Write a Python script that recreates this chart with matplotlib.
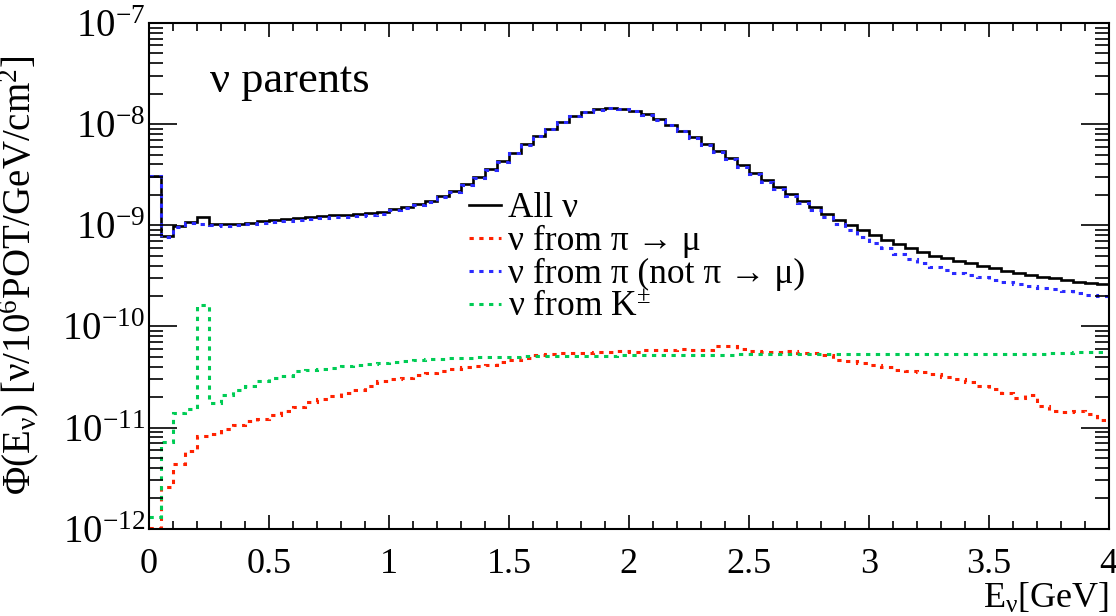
import numpy as np
import matplotlib
matplotlib.use('Agg')
import matplotlib.pyplot as plt
from matplotlib.ticker import MultipleLocator, LogLocator, NullFormatter

plt.rcParams['font.family'] = ['Liberation Serif', 'DejaVu Serif']
plt.rcParams['mathtext.fontset'] = 'custom'
plt.rcParams['mathtext.rm'] = 'Liberation Serif'
plt.rcParams['mathtext.it'] = 'Liberation Serif'
plt.rcParams['mathtext.bf'] = 'Liberation Serif:bold'

# 80 bins of 0.05 GeV from 0 to 4 GeV
bin_edges = np.linspace(0.0, 4.0, 81)

flux_all = [
    3.1e-9, 7.8e-10, 9.8e-10, 1.07e-9, 1.21e-9, 1.02e-9, 1.02e-9, 1.03e-9, 1.06e-9, 1.09e-9,
    1.12e-9, 1.15e-9, 1.18e-9, 1.2e-9, 1.23e-9, 1.25e-9, 1.27e-9, 1.29e-9, 1.31e-9, 1.34e-9,
    1.45e-9, 1.52e-9, 1.62e-9, 1.75e-9, 1.95e-9, 2.2e-9, 2.55e-9, 3.0e-9, 3.6e-9, 4.3e-9,
    5.2e-9, 6.3e-9, 7.6e-9, 9.0e-9, 1.05e-8, 1.2e-8, 1.32e-8, 1.4e-8, 1.45e-8, 1.42e-8,
    1.35e-8, 1.25e-8, 1.12e-8, 9.8e-9, 8.6e-9, 7.4e-9, 6.3e-9, 5.4e-9, 4.6e-9, 3.9e-9,
    3.3e-9, 2.8e-9, 2.4e-9, 2.05e-9, 1.75e-9, 1.5e-9, 1.3e-9, 1.14e-9, 1.0e-9, 8.9e-10,
    8.0e-10, 7.2e-10, 6.5e-10, 5.9e-10, 5.4e-10, 5.0e-10, 4.7e-10, 4.45e-10, 4.2e-10, 3.95e-10,
    3.75e-10, 3.55e-10, 3.4e-10, 3.25e-10, 3.1e-10, 2.98e-10, 2.88e-10, 2.78e-10, 2.68e-10, 2.6e-10,
]

flux_pi_other = [
    3.1e-9, 7.7e-10, 9.6e-10, 1.05e-9, 1.04e-9, 1.0e-9, 9.9e-10, 1.0e-9, 1.02e-9, 1.05e-9,
    1.08e-9, 1.1e-9, 1.13e-9, 1.15e-9, 1.18e-9, 1.2e-9, 1.22e-9, 1.24e-9, 1.26e-9, 1.29e-9,
    1.4e-9, 1.47e-9, 1.57e-9, 1.7e-9, 1.9e-9, 2.15e-9, 2.5e-9, 2.95e-9, 3.55e-9, 4.25e-9,
    5.15e-9, 6.25e-9, 7.55e-9, 8.95e-9, 1.045e-8, 1.19e-8, 1.31e-8, 1.39e-8, 1.44e-8, 1.41e-8,
    1.34e-8, 1.24e-8, 1.11e-8, 9.7e-9, 8.5e-9, 7.3e-9, 6.2e-9, 5.3e-9, 4.5e-9, 3.8e-9,
    3.2e-9, 2.7e-9, 2.3e-9, 1.95e-9, 1.66e-9, 1.41e-9, 1.2e-9, 1.04e-9, 8.9e-10, 7.6e-10,
    6.7e-10, 5.95e-10, 5.2e-10, 4.65e-10, 4.2e-10, 3.85e-10, 3.6e-10, 3.4e-10, 3.2e-10, 3.05e-10,
    2.9e-10, 2.78e-10, 2.65e-10, 2.53e-10, 2.42e-10, 2.32e-10, 2.22e-10, 2.14e-10, 2.06e-10, 1.98e-10,
]

flux_pi_mu = [
    1.02e-12, 2.6e-12, 4.4e-12, 5.8e-12, 8.3e-12, 8.7e-12, 9.7e-12, 1.06e-11, 1.15e-11, 1.22e-11,
    1.34e-11, 1.45e-11, 1.58e-11, 1.77e-11, 1.9e-11, 2.05e-11, 2.2e-11, 2.35e-11, 2.6e-11, 2.9e-11,
    3.0e-11, 3.1e-11, 3.3e-11, 3.45e-11, 3.6e-11, 3.8e-11, 3.95e-11, 4.1e-11, 4.2e-11, 4.4e-11,
    4.7e-11, 4.9e-11, 5.2e-11, 5.3e-11, 5.4e-11, 5.5e-11, 5.5e-11, 5.6e-11, 5.6e-11, 5.7e-11,
    5.6e-11, 5.8e-11, 5.9e-11, 5.9e-11, 6.0e-11, 5.8e-11, 5.9e-11, 6.4e-11, 6.4e-11, 6.0e-11,
    5.7e-11, 5.6e-11, 5.6e-11, 5.7e-11, 5.5e-11, 5.4e-11, 5.2e-11, 4.7e-11, 4.5e-11, 4.3e-11,
    4.15e-11, 4.0e-11, 3.75e-11, 3.65e-11, 3.55e-11, 3.4e-11, 3.15e-11, 3.0e-11, 2.85e-11, 2.6e-11,
    2.4e-11, 2.2e-11, 1.95e-11, 2.1e-11, 1.65e-11, 1.45e-11, 1.42e-11, 1.45e-11, 1.35e-11, 1.2e-11,
]

flux_kaon = [
    1.3e-12, 7.2e-12, 1.4e-11, 1.53e-11, 1.64e-10, 1.74e-11, 2.1e-11, 2.35e-11, 2.6e-11, 2.9e-11,
    3.1e-11, 3.2e-11, 3.6e-11, 3.7e-11, 3.8e-11, 3.9e-11, 4.05e-11, 4.15e-11, 4.25e-11, 4.35e-11,
    4.45e-11, 4.55e-11, 4.65e-11, 4.75e-11, 4.8e-11, 4.85e-11, 4.9e-11, 4.95e-11, 5.0e-11, 5.0e-11,
    5.0e-11, 5.05e-11, 5.05e-11, 5.1e-11, 5.1e-11, 5.1e-11, 5.15e-11, 5.15e-11, 5.15e-11, 5.2e-11,
    5.2e-11, 5.2e-11, 5.2e-11, 5.2e-11, 5.2e-11, 5.2e-11, 5.25e-11, 5.25e-11, 5.25e-11, 5.3e-11,
    5.3e-11, 5.3e-11, 5.3e-11, 5.3e-11, 5.3e-11, 5.3e-11, 5.3e-11, 5.3e-11, 5.3e-11, 5.3e-11,
    5.3e-11, 5.3e-11, 5.3e-11, 5.3e-11, 5.3e-11, 5.3e-11, 5.3e-11, 5.3e-11, 5.3e-11, 5.3e-11,
    5.3e-11, 5.3e-11, 5.3e-11, 5.3e-11, 5.35e-11, 5.4e-11, 5.5e-11, 5.55e-11, 5.6e-11, 5.6e-11,
]

labels = ['All ν', 'ν from π → μ', 'ν from π (not π → μ)', 'ν from K$^{\\pm}$']
xtick_vals = [0, 0.5, 1, 1.5, 2, 2.5, 3, 3.5, 4]
xtick_text = ['0', '0.5', '1', '1.5', '2', '2.5', '3', '3.5', '4']

dotted = (0, (1.4, 1.8))

fig = plt.figure(figsize=(11.16, 6.16), dpi=100)
ax = fig.add_axes([0.1335, 0.1417, 0.86, 0.821])

h_all = ax.stairs(flux_all, bin_edges, baseline=None, color='black', lw=1.9)
h_other = ax.stairs(flux_pi_other, bin_edges, baseline=None, color='#2b2bff', lw=2.2,
                    linestyle=dotted)
h_mu = ax.stairs(flux_pi_mu, bin_edges, baseline=None, color='#ff2200', lw=2.2,
                 linestyle=dotted)
h_k = ax.stairs(flux_kaon, bin_edges, baseline=None, color='#00cc55', lw=2.2,
                linestyle=dotted)

ax.set_yscale('log')
ax.set_xlim(0, 4)
ax.set_ylim(1e-12, 1e-7)

ax.xaxis.set_minor_locator(MultipleLocator(0.1))
ax.set_xticks(xtick_vals)
ax.set_xticklabels(xtick_text)
ax.yaxis.set_major_locator(LogLocator(base=10, numticks=10))
ax.yaxis.set_minor_locator(LogLocator(base=10, subs=np.arange(2, 10), numticks=10))
ax.yaxis.set_minor_formatter(NullFormatter())

ax.tick_params(which='both', direction='in', top=True, right=True, width=1.2)
ax.tick_params(axis='x', which='major', length=10, labelsize=26, pad=14)
ax.tick_params(axis='x', which='minor', length=5.5)
ax.tick_params(axis='y', which='major', length=20, labelsize=28, pad=3)
ax.tick_params(axis='y', which='minor', length=10)
for s in ax.spines.values():
    s.set_linewidth(1.5)

ax.set_ylabel('Φ(E$_{ν}$) [ν/10$^{6}$POT/GeV/cm$^{2}$]', fontsize=28, labelpad=0)
ax.yaxis.set_label_coords(-0.112, 0.5)
ax.set_xlabel('E$_{ν}$[GeV]', fontsize=26)
ax.xaxis.set_label_coords(1.0, -0.104)
ax.xaxis.label.set_horizontalalignment('right')
ax.xaxis.label.set_verticalalignment('top')

ax.text(0.064, 0.885, 'ν parents', transform=ax.transAxes, fontsize=32,
        va='center', ha='left')

leg = ax.legend([h_all, h_mu, h_other, h_k], labels, loc='upper left',
                bbox_to_anchor=(0.42, 0.688), bbox_transform=fig.transFigure,
                frameon=False, fontsize=25.5, handlelength=0.9, handletextpad=0.2,
                labelspacing=0.0, borderpad=0, borderaxespad=0)

fig.savefig('out.png', dpi=100)
